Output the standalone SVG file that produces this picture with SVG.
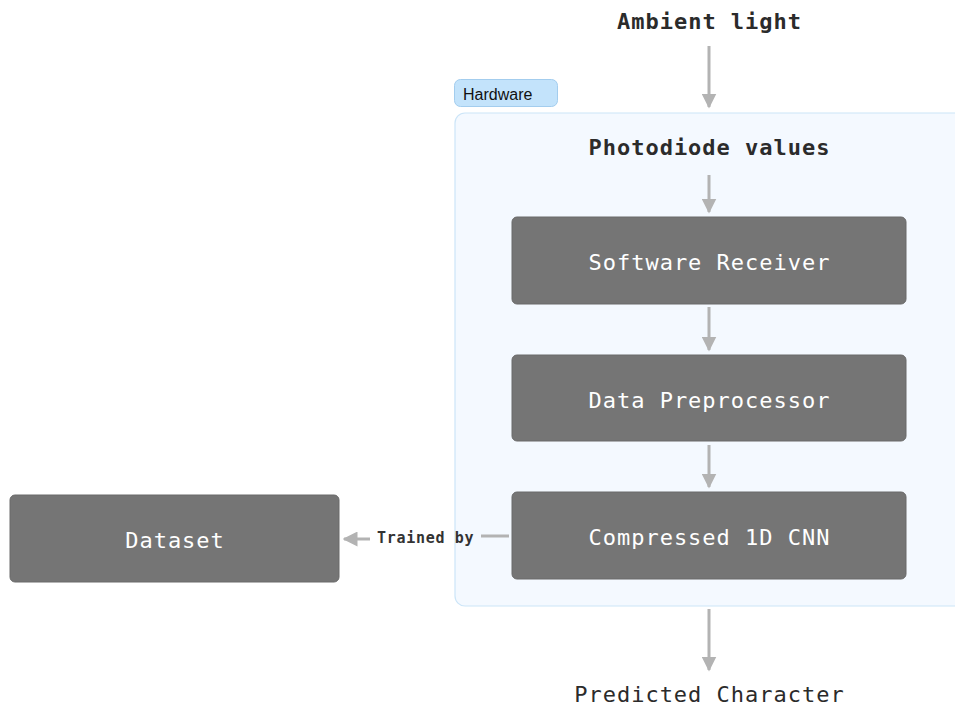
<svg xmlns="http://www.w3.org/2000/svg" width="955" height="706" viewBox="0 0 955 706">
  <style>
    .node rect { fill: #757575; stroke: #6a6a6a; stroke-width: 1; }
    .node text { fill: #ffffff; font-family: "DejaVu Sans Mono", "Liberation Mono", monospace; font-size: 22px; letter-spacing: 1px; text-anchor: middle; }
    .label { fill: #2b2b2b; font-family: "DejaVu Sans Mono", "Liberation Mono", monospace; font-weight: bold; font-size: 22px; letter-spacing: 1px; text-anchor: middle; }
    .plain { fill: #2b2b2b; font-family: "DejaVu Sans Mono", "Liberation Mono", monospace; font-size: 22px; letter-spacing: 1px; text-anchor: middle; }
    .edge { stroke: #b3b3b3; stroke-width: 3; fill: none; }
    .edge-label { fill: #333333; font-family: "DejaVu Sans Mono", "Liberation Mono", monospace; font-weight: bold; font-size: 15px; letter-spacing: 0.7px; }
  </style>
  <defs>
    <marker id="arrow" viewBox="0 0 10 10" refX="9" refY="5" markerWidth="5" markerHeight="5" markerUnits="strokeWidth" orient="auto">
      <path d="M0,0 L10,5 L0,10 z" fill="#b3b3b3"/>
    </marker>
  </defs>

  <rect width="955" height="706" fill="#ffffff"/>

  <!-- Hardware cluster -->
  <g id="hardware">
    <rect x="455" y="113" width="520" height="493" rx="10" fill="#f4f9ff" stroke="#cce5f8" stroke-width="1.2"/>
    <rect x="454.5" y="79.5" width="103" height="27" rx="6" fill="#c3e3fb" stroke="#a3cdee" stroke-width="1"/>
    <text x="463" y="100" font-family="'Liberation Sans', Arial, sans-serif" font-size="16" fill="#111111">Hardware</text>
  </g>

  <!-- Plain labels -->
  <g id="ambient">
    <text class="label" x="709.5" y="29">Ambient light</text>
  </g>
  <g id="photodiode">
    <text class="label" x="709.5" y="155">Photodiode values</text>
  </g>
  <g id="predicted">
    <text class="plain" x="709.5" y="702">Predicted Character</text>
  </g>

  <!-- Process nodes -->
  <g id="receiver" class="node">
    <rect x="512" y="217" width="394" height="87" rx="5"/>
    <text x="709.5" y="270">Software Receiver</text>
  </g>
  <g id="preprocessor" class="node">
    <rect x="512" y="355" width="394" height="86" rx="5"/>
    <text x="709.5" y="407.5">Data Preprocessor</text>
  </g>
  <g id="cnn" class="node">
    <rect x="512" y="492" width="394" height="87" rx="5"/>
    <text x="709.5" y="545">Compressed 1D CNN</text>
  </g>
  <g id="dataset" class="node">
    <rect x="10" y="495" width="329" height="87" rx="5"/>
    <text x="175" y="548">Dataset</text>
  </g>

  <!-- Connectors -->
  <g id="edges">
    <line class="edge" x1="709" y1="46" x2="709" y2="107" marker-end="url(#arrow)"/>
    <line class="edge" x1="709" y1="175" x2="709" y2="212" marker-end="url(#arrow)"/>
    <line class="edge" x1="709" y1="307" x2="709" y2="350" marker-end="url(#arrow)"/>
    <line class="edge" x1="709" y1="445" x2="709" y2="487" marker-end="url(#arrow)"/>
    <line class="edge" x1="709" y1="609" x2="709" y2="670" marker-end="url(#arrow)"/>
    <line class="edge" x1="509" y1="536" x2="481" y2="536"/>
    <line class="edge" x1="370" y1="539" x2="344" y2="539" marker-end="url(#arrow)"/>
    <text class="edge-label" x="377" y="543">Trained by</text>
  </g>
</svg>
